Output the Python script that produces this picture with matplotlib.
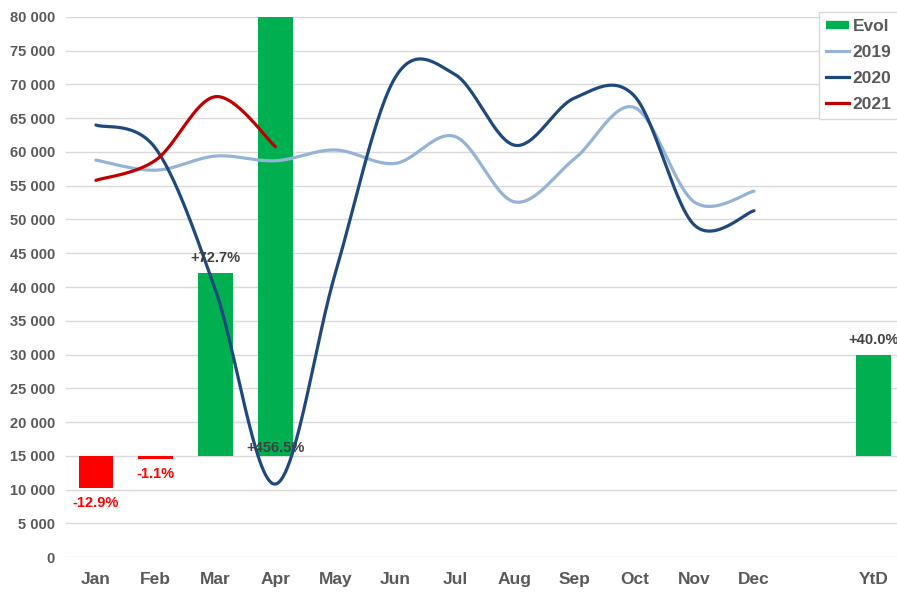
import numpy as np
import matplotlib.pyplot as plt
from matplotlib.lines import Line2D
from matplotlib.ticker import FuncFormatter

plt.rcParams['font.family'] = ['Liberation Sans', 'DejaVu Sans']

months = ['Jan', 'Feb', 'Mar', 'Apr', 'May', 'Jun', 'Jul', 'Aug', 'Sep', 'Oct', 'Nov', 'Dec']
categories = months + ['', 'YtD']

sales_2019 = [58800, 57300, 59400, 58700, 60300, 58300, 62300, 52600, 59000, 66600, 52600, 54200]
sales_2020 = [64000, 60500, 39500, 10800, 42000, 71000, 71500, 61000, 68000, 68300, 49200, 51300]
sales_2021 = [55800, 58800, 68200, 60800]

# evolution 2021 vs 2020 (%), drawn as bars around a 15 000 baseline
evol_cats = ['Jan', 'Feb', 'Mar', 'Apr', 'YtD']
evol_pct = [-12.9, -1.1, 72.7, 456.5, 40.0]
evol_base = 15000
evol_scale = 372  # units per percentage point

def smooth(y, n=30):
    # catmull-rom like excel "smoothed line"
    y = np.asarray(y, dtype=float)
    x = np.arange(len(y), dtype=float)
    px = np.concatenate([[x[0]], x, [x[-1]]])
    py = np.concatenate([[y[0]], y, [y[-1]]])
    xs, ys = [], []
    for i in range(1, len(px) - 2):
        t = np.linspace(0, 1, n, endpoint=False)
        h00 = 2*t**3 - 3*t**2 + 1
        h10 = t**3 - 2*t**2 + t
        h01 = -2*t**3 + 3*t**2
        h11 = t**3 - t**2
        for arr, out in ((px, xs), (py, ys)):
            m1 = (arr[i+1] - arr[i-1]) / 2
            m2 = (arr[i+2] - arr[i]) / 2
            out.extend(h00*arr[i] + h10*m1 + h01*arr[i+1] + h11*m2)
    xs.append(x[-1])
    ys.append(y[-1])
    return np.array(xs), np.array(ys)

fig = plt.figure(figsize=(8.97, 5.92), dpi=100)
ax = fig.add_axes([0.0736, 0.0591, 0.9264, 0.9122])

pos = {c: i for i, c in enumerate(categories) if c}
gray = '#595959'

for cat, pct in zip(evol_cats, evol_pct):
    x = pos[cat]
    h = pct * evol_scale
    col = '#00B050' if pct >= 0 else '#FF0000'
    ax.bar(x, h, bottom=evol_base, width=0.58, color=col, zorder=2)
    label = '%+.1f%%' % pct
    top = min(evol_base + h, 80000)
    if pct < 0:
        ax.text(x, evol_base + h - 1200, label, ha='center', va='top',
                color='#FF0000', fontsize=10.5, fontweight='bold', zorder=5)
    elif top >= 80000:
        ax.text(x, evol_base + 1200, label, ha='center', va='center',
                color='#404040', fontsize=10.5, fontweight='bold', zorder=5)
    else:
        ax.text(x, top + 1200, label, ha='center', va='bottom',
                color='#404040', fontsize=10.5, fontweight='bold', zorder=5)

for data, col in ((sales_2019, '#95B3D7'), (sales_2020, '#1F497D'), (sales_2021, '#C00000')):
    xs, ys = smooth(data)
    ax.plot(xs, ys, color=col, lw=2.3, solid_capstyle='round', zorder=4)

ax.set_xlim(-0.5, 13.39)
ax.set_ylim(0, 80000)
ax.set_yticks(np.arange(0, 80001, 5000))
ax.yaxis.set_major_formatter(FuncFormatter(lambda v, p: '{:,}'.format(int(v)).replace(',', ' ')))
ax.set_xticks(range(len(categories)))
ax.set_xticklabels(categories)
ax.grid(axis='y', color='#D9D9D9', lw=1, zorder=0)
ax.set_axisbelow(True)
for s in ax.spines.values():
    s.set_visible(False)
ax.tick_params(length=0, labelsize=10.5, labelcolor=gray)
ax.tick_params(axis='x', pad=11, labelsize=12.5)
ax.tick_params(axis='y', pad=8)
for lab in ax.get_xticklabels() + ax.get_yticklabels():
    lab.set_fontweight('bold')

handles = [Line2D([], [], color='#00B050', lw=6, solid_capstyle='butt', label='Evol'),
           Line2D([], [], color='#95B3D7', lw=2.3, label='2019'),
           Line2D([], [], color='#1F497D', lw=2.3, label='2020'),
           Line2D([], [], color='#C00000', lw=2.3, label='2021')]
leg = ax.legend(handles=handles, loc='upper right', bbox_to_anchor=(1.012, 1.025),
                fancybox=False, framealpha=1, edgecolor='#D9D9D9',
                prop={'weight': 'bold', 'size': 12.5}, labelcolor=gray,
                handlelength=1.35, handletextpad=0.2, borderpad=0.4, labelspacing=0.62)
leg.set_zorder(10)

fig.savefig('out.png', dpi=100)
